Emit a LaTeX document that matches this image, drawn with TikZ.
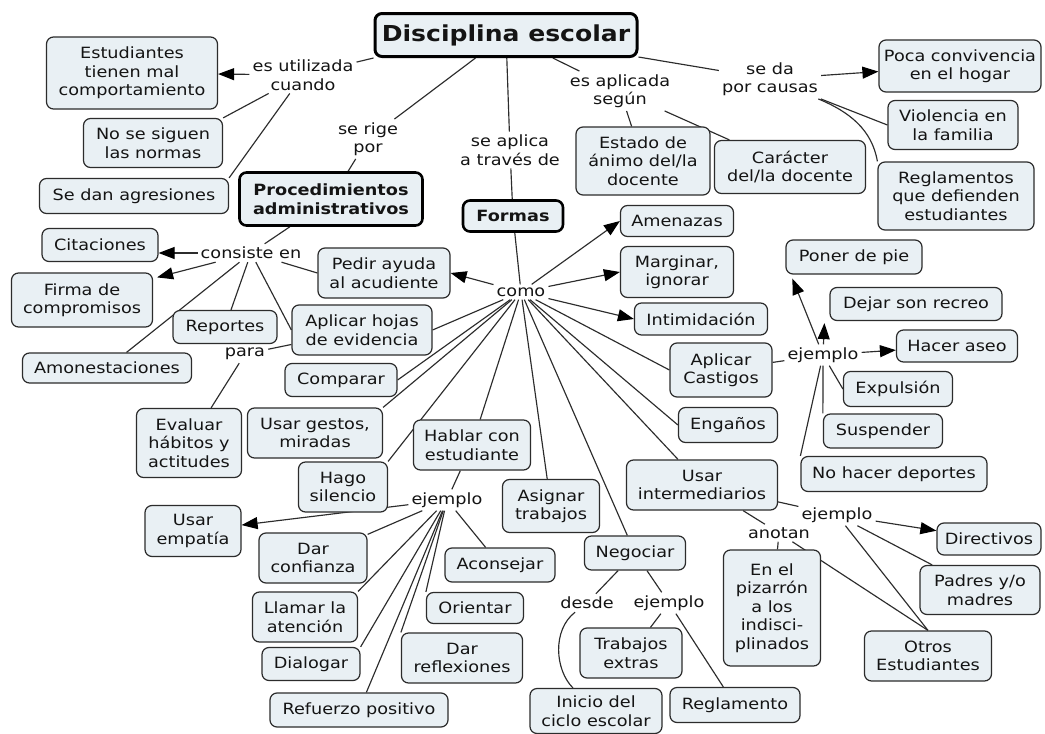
\documentclass[tikz,border=0pt]{standalone}
\usepackage{fontspec}
\setmainfont{DejaVu Sans}[FakeStretch=1.14]
\usetikzlibrary{arrows.meta,calc,backgrounds}
\definecolor{cfill}{HTML}{E9F0F4}
\definecolor{cline}{HTML}{2C2C2C}
\definecolor{ink}{HTML}{141414}
\begin{document}
\begin{tikzpicture}[x=1pt,y=-1pt,
  concept/.style={draw=cline, fill=cfill, rounded corners=7pt, line width=1.2pt,
    align=center, inner sep=0pt, text=ink, font=\fontsize{15.5}{18.5}\selectfont},
  keyconcept/.style={concept, draw=black, line width=2.6pt,
    font=\fontsize{15.5}{18.5}\selectfont\bfseries},
  phrase/.style={align=center, inner sep=3pt, text=ink, font=\fontsize{15.5}{18.5}\selectfont},
  sz/.style 2 args={minimum width=#1pt, minimum height=#2pt},
  link/.style={draw=cline, line width=1.15pt},
  tolink/.style={link, -{Triangle[length=16pt,width=12pt,color=black]}},
]
\useasboundingbox (0,0) rectangle (1045,734);

% ---------- root ----------
\node[keyconcept, sz={262}{43}, line width=3pt, font=\fontsize{22}{26}\selectfont\bfseries] (disc) at (506,35) {Disciplina escolar};

% ---------- top branches ----------
\node[phrase] (utiliz) at (303,75) {es utilizada\\cuando};
\node[concept, sz={171}{72}] (estud) at (132,73) {Estudiantes\\tienen mal\\comportamiento};
\node[concept, sz={139}{49}] (normas) at (153,143) {No se siguen\\las normas};
\node[concept, sz={189}{35}] (agres) at (134,196) {Se dan agresiones};

\node[phrase] (rige) at (368,139) {se rige\\por};
\node[keyconcept, sz={183}{53}] (proc) at (331,199) {Procedimientos\\administrativos};

\node[phrase] (aplica) at (510,150) {se aplica\\a través de};
\node[keyconcept, sz={100}{31}] (formas) at (513,216) {Formas};

\node[phrase] (segun) at (620,91) {es aplicada\\según};
\node[concept, sz={134}{68}] (estado) at (643,161) {Estado de\\ánimo del/la\\docente};
\node[concept, sz={151}{53}] (caracter) at (790,167) {Carácter\\del/la docente};

\node[phrase] (causas) at (770,79) {se da\\por causas};
\node[concept, sz={162}{52}] (poca) at (960,66) {Poca convivencia\\en el hogar};
\node[concept, sz={130}{49}] (violencia) at (953,125) {Violencia en\\la familia};
\node[concept, sz={156}{68}] (reglam) at (956,196) {Reglamentos\\que defienden\\estudiantes};

% ---------- procedimientos ----------
\node[phrase] (consiste) at (251,253) {consiste en};
\node[concept, sz={116}{33}] (citac) at (100,245) {Citaciones};
\node[concept, sz={141}{54}] (firma) at (82,300) {Firma de\\compromisos};
\node[concept, sz={104}{33}] (reportes) at (225,327) {Reportes};
\node[concept, sz={169}{30}] (amonest) at (107,368) {Amonestaciones};
\node[concept, sz={140}{50}] (aplhojas) at (362,330) {Aplicar hojas\\de evidencia};
\node[phrase] (para) at (245,354) {para};
\node[concept, sz={105}{69}] (evaluar) at (189,443) {Evaluar\\hábitos y\\actitudes};
\node[concept, sz={132}{50}] (pedir) at (384,273) {Pedir ayuda\\al acudiente};

% ---------- formas ----------
\node[phrase] (como) at (521,292) {como};
\node[concept, sz={113}{31}] (amenazas) at (677,221) {Amenazas};
\node[concept, sz={113}{51}] (marginar) at (677,272) {Marginar,\\ignorar};
\node[concept, sz={133}{32}] (intimid) at (701,319) {Intimidación};
\node[concept, sz={102}{54}] (castigos) at (721,370) {Aplicar\\Castigos};
\node[concept, sz={99}{35}] (enganos) at (728,425) {Engaños};
\node[concept, sz={151}{50}] (intermed) at (702,485) {Usar\\intermediarios};
\node[concept, sz={101}{34}] (negociar) at (635,553) {Negociar};
\node[concept, sz={97}{53}] (asignar) at (551,506) {Asignar\\trabajos};
\node[concept, sz={117}{50}] (hablar) at (472,445) {Hablar con\\estudiante};
\node[concept, sz={89}{50}] (silencio) at (343,487) {Hago\\silencio};
\node[concept, sz={135}{50}] (gestos) at (315,433) {Usar gestos,\\miradas};
\node[concept, sz={112}{33}] (comparar) at (341,380) {Comparar};

% ---------- castigos ----------
\node[phrase] (ejC) at (823,355) {ejemplo};
\node[concept, sz={136}{34}] (poner) at (854,257) {Poner de pie};
\node[concept, sz={172}{33}] (dejar) at (916,304) {Dejar son recreo};
\node[concept, sz={121}{32}] (aseo) at (957,346) {Hacer aseo};
\node[concept, sz={109}{35}] (expuls) at (898,389) {Expulsión};
\node[concept, sz={119}{34}] (suspender) at (883,431) {Suspender};
\node[concept, sz={186}{35}] (deportes) at (894,474) {No hacer deportes};

% ---------- intermediarios ----------
\node[phrase] (ejI) at (837,515) {ejemplo};
\node[phrase] (anotan) at (779,533) {anotan};
\node[concept, sz={97}{116}] (pizarron) at (772,608) {En el\\pizarrón\\a los\\indisci-\\plinados};
\node[concept, sz={104}{32}] (directivos) at (989,539) {Directivos};
\node[concept, sz={120}{49}] (padres) at (980,590) {Padres y/o\\madres};
\node[concept, sz={127}{50}] (otros) at (928,656) {Otros\\Estudiantes};

% ---------- hablar con estudiante ----------
\node[phrase] (ejH) at (447,500) {ejemplo};
\node[concept, sz={96}{51}] (empatia) at (193,531) {Usar\\empatía};
\node[concept, sz={108}{50}] (confianza) at (313,558) {Dar\\confianza};
\node[concept, sz={105}{50}] (llamar) at (305,617) {Llamar la\\atención};
\node[concept, sz={98}{33}] (dialogar) at (311,664) {Dialogar};
\node[concept, sz={178}{34}] (refuerzo) at (359,710) {Refuerzo positivo};
\node[concept, sz={121}{50}] (reflex) at (462,658) {Dar\\reflexiones};
\node[concept, sz={97}{31}] (orientar) at (475,608) {Orientar};
\node[concept, sz={110}{34}] (aconsejar) at (500,565) {Aconsejar};

% ---------- negociar ----------
\node[phrase] (desde) at (587,603) {desde};
\node[phrase] (ejN) at (669,603) {ejemplo};
\node[concept, sz={102}{50}] (trabajos) at (631,653) {Trabajos\\extras};
\node[concept, sz={132}{45}] (inicio) at (596,711) {Inicio del\\ciclo escolar};
\node[concept, sz={130}{35}] (reglamento) at (735,705) {Reglamento};

% ---------- connectors ----------
\begin{scope}[on background layer]
\fill[white] (0,0) rectangle (1045,734);

\draw[link] (disc.south west) -- (utiliz);
\draw[tolink] (utiliz) -- (estud);
\draw[link] (utiliz) -- (normas.north east);
\draw[link] (utiliz) -- (agres.north east);

\draw[link] (disc) -- (rige);
\draw[link] (rige) -- (proc);
\draw[link] (disc) -- (aplica);
\draw[link] (aplica) -- (formas);
\draw[link] (disc) -- (segun);
\draw[link] (segun) -- (estado);
\draw[link] (segun) -- (caracter);
\draw[link] (disc) -- (causas);
\draw[tolink] (causas) -- (poca);
\draw[link] (causas) -- (violencia.west);
\draw[link] (causas) .. controls (850,112) and (872,130) .. (reglam.north west);

\draw[link] (proc) -- (consiste);
\draw[tolink] (consiste) -- (consiste -| citac.east);
\draw[tolink] (consiste) -- ($(firma.north east)+(4,5)$);
\draw[link] (consiste) -- (amonest);
\draw[link] (consiste) -- (reportes);
\draw[link] (consiste) -- (aplhojas.west);
\draw[link] (consiste) -- (pedir.west);
\draw[link] (aplhojas) -- (para);
\draw[link] (para) -- (evaluar);

\draw[link] (formas) -- (como);
\draw[tolink] (como) -- (pedir.east);
\draw[tolink] (como) -- (amenazas.west);
\draw[tolink] (como) -- (marginar.west);
\draw[tolink] (como) -- (intimid.west);
\draw[link] (como) -- (castigos.west);
\draw[link] (como) -- (enganos.west);
\draw[link] (como) -- (intermed);
\draw[link] (como) -- (negociar);
\draw[link] (como) -- (asignar);
\draw[link] (como) -- (hablar);
\draw[link] (como) -- (silencio.north east);
\draw[link] (como) -- (gestos.north east);
\draw[link] (como) -- (comparar.east);
\draw[link] (como) -- (aplhojas.east);

\draw[link] (castigos) -- (ejC);
\draw[tolink] (ejC) -- ($(poner.south west)+(7,4)$);
\draw[tolink] (ejC) -- ($(dejar.south west)+(-5,2)$);
\draw[tolink] (ejC) -- (aseo);
\draw[link] (ejC) -- (expuls.west);
\draw[link] (ejC) -- (suspender.north west);
\draw[link] (ejC) -- (deportes.north west);

\draw[link] (intermed) -- (ejI);
\draw[link] (intermed) -- (anotan);
\draw[tolink] (ejI) -- (directivos);
\draw[link] (ejI) -- (padres);
\draw[link] (ejI) -- (otros.north);
\draw[link] (anotan) -- (otros.north);
\draw[link] (anotan) -- (pizarron);

\draw[link] (hablar) -- (ejH);
\draw[tolink] (ejH) -- (empatia);
\draw[link] (ejH) -- (confianza);
\draw[link] (ejH) -- (llamar.north east);
\draw[link] (ejH) -- (dialogar.north east);
\draw[link] (ejH) -- (refuerzo);
\draw[link] (ejH) -- (reflex.north west);
\draw[link] (ejH) -- (orientar.north west);
\draw[link] (ejH) -- (aconsejar);

\draw[link] (negociar) -- (desde);
\draw[link] (negociar) -- (ejN);
\draw[link] (desde) .. controls (552,630) and (555,670) .. (inicio);
\draw[link] (ejN) -- (trabajos);
\draw[link] (ejN) -- (reglamento);
\end{scope}
\end{tikzpicture}
\end{document}
